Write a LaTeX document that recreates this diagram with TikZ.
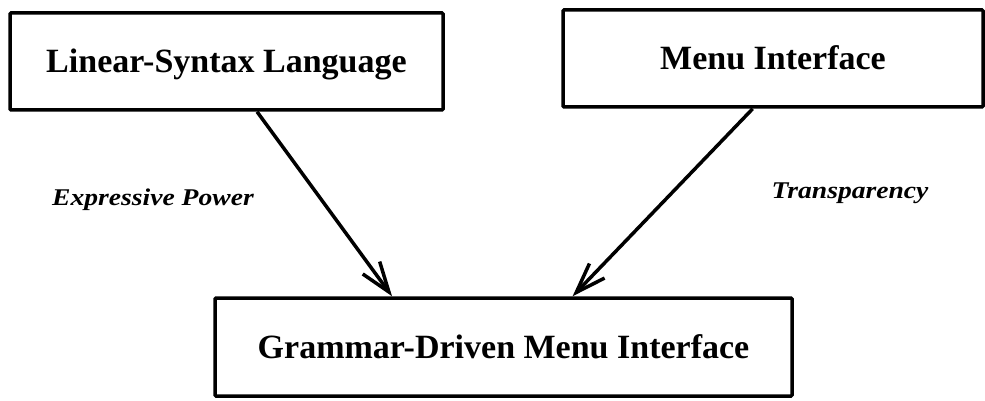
\documentclass[tikz,border=0pt]{standalone}
\usepackage{fontspec}
\setmainfont{Liberation Serif}
\newfontfamily\labelfont[FakeStretch=1.15]{Liberation Serif}
\usetikzlibrary{arrows.meta,calc}

\begin{document}
\begin{tikzpicture}[
        x=1pt, y=-1pt,
        box/.style={
            draw, 
            line width=3.5pt, 
            rectangle,
            rounded corners=1pt,
            inner sep=0pt,
            text height=22.5pt,
            text depth=0pt,
            font=\fontsize{34}{37}\selectfont\bfseries
        },
        flow/.style={
            line width=3.5pt,
            -{Straight Barb[length=30pt, width=21pt, line width=3.5pt]}
        },
        flow_label/.style={
            font=\labelfont\fontsize{24}{27}\selectfont\bfseries\itshape,
            inner sep=0pt
        }
    ]
        \useasboundingbox (0,0) rectangle (985,401);

        \node[box, minimum width=433pt, minimum height=97pt] (linear) at (226.5, 61.5) {Linear-Syntax Language};
        \node[box, minimum width=420pt, minimum height=97pt] (menu) at (773, 58.5) {Menu Interface};
        \node[box, minimum width=577pt, minimum height=98pt] (grammar) at (503.5, 347) {Grammar-Driven Menu Interface};

        \draw[flow] ($(linear.south west)!0.57!(linear.south east)$) -- ($(grammar.north west)!0.308!(grammar.north east)$);
        \draw[flow] ($(menu.south west)!0.452!(menu.south east)$) -- ($(grammar.north west)!0.619!(grammar.north east)$);

        \node[flow_label, anchor=base] (power) at (153, 205) {Expressive Power};
        \node[flow_label, anchor=base] (transp) at (850, 198) {Transparency};
            
    \end{tikzpicture}
\end{document}
